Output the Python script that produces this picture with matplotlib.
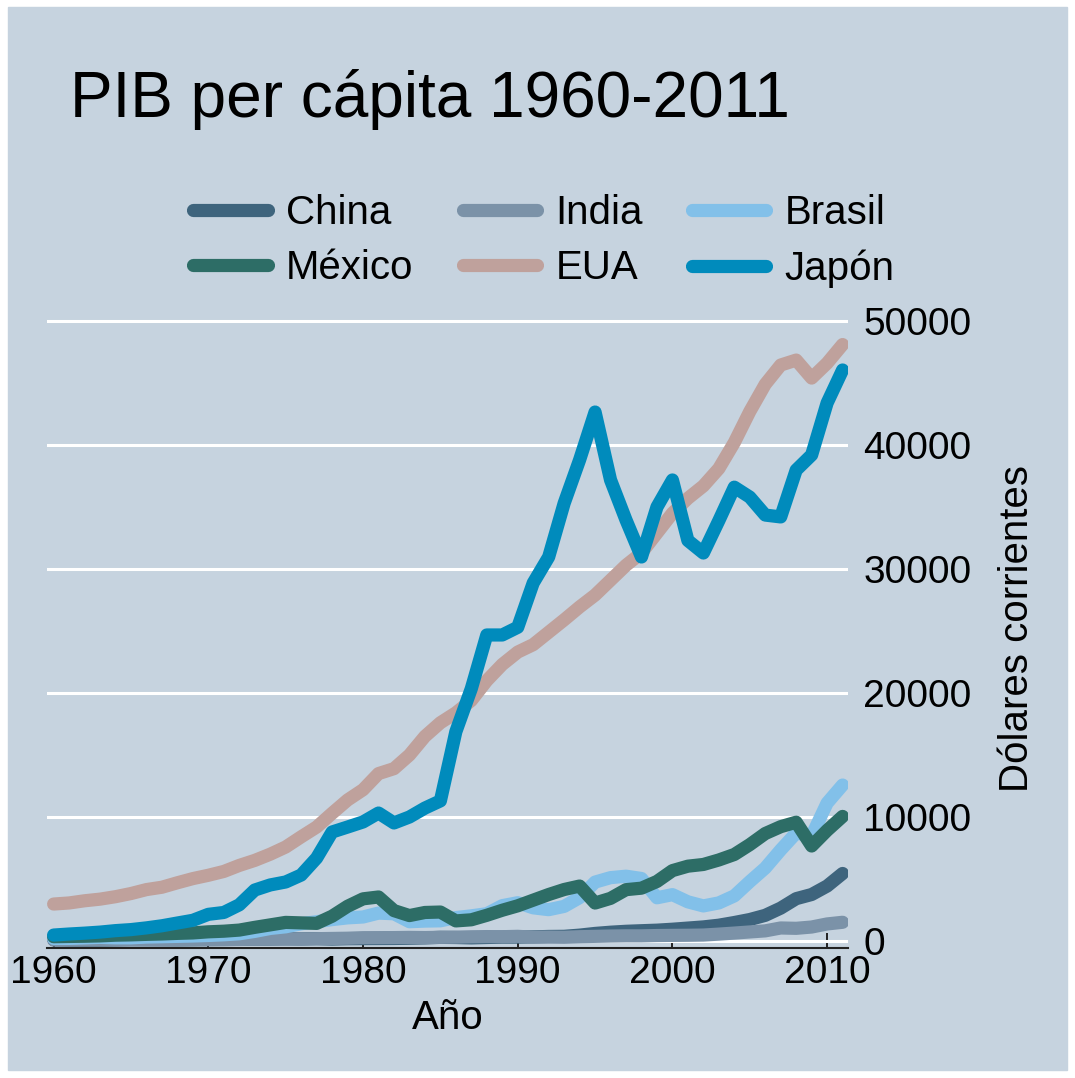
import numpy as np
import matplotlib
matplotlib.use("Agg")
import matplotlib.pyplot as plt
from matplotlib.lines import Line2D
from matplotlib.patches import Rectangle

plt.rcParams['font.family'] = ['Liberation Sans', 'DejaVu Sans']

years = list(range(1960, 2012))

# PIB per capita, dolares corrientes
china = [92, 75, 70, 74, 85, 98, 104, 96, 91, 100,
         112, 118, 131, 157, 160, 178, 165, 185, 155, 183,
         193, 197, 203, 225, 250, 294, 281, 251, 283, 310,
         314, 333, 366, 377, 473, 610, 709, 782, 829, 873,
         949, 1042, 1135, 1274, 1490, 1731, 2069, 2651, 3414, 3749,
         4433, 5445]
india = [84, 89, 92, 102, 116, 119, 90, 97, 100, 108,
         112, 118, 122, 143, 163, 158, 161, 186, 205, 224,
         267, 271, 275, 291, 277, 296, 310, 340, 355, 347,
         376, 309, 317, 301, 346, 374, 400, 415, 413, 441,
         453, 462, 480, 555, 639, 729, 817, 1050, 1022, 1127,
         1375, 1509]
brasil = [205, 208, 251, 292, 255, 256, 318, 344, 373, 403,
          445, 500, 582, 773, 1012, 1144, 1386, 1559, 1725, 1866,
          1936, 2250, 2195, 1555, 1605, 1627, 1888, 2029, 2200, 2850,
          3087, 2676, 2526, 2791, 3500, 4750, 5109, 5226, 5041, 3484,
          3739, 3157, 2829, 3070, 3637, 4790, 5886, 7348, 8707, 8474,
          11124, 12576]
mexico = [345, 365, 383, 412, 469, 494, 535, 565, 614, 651,
          740, 790, 880, 1100, 1300, 1500, 1460, 1420, 2000, 2800,
          3400, 3550, 2450, 2050, 2300, 2335, 1620, 1710, 2072, 2480,
          2837, 3293, 3749, 4152, 4432, 3061, 3439, 4140, 4261, 4802,
          5676, 6034, 6172, 6534, 6976, 7771, 8667, 9219, 9580, 7661,
          8921, 10047]
eua = [2980, 3067, 3244, 3375, 3574, 3828, 4146, 4336, 4696, 5032,
       5300, 5609, 6094, 6500, 7000, 7580, 8400, 9190, 10300, 11370,
       12200, 13500, 13900, 15000, 16500, 17600, 18400, 19400, 21000, 22300,
       23300, 23900, 24900, 25900, 26940, 27900, 29100, 30300, 31290, 32900,
       34500, 35700, 36700, 38100, 40200, 42700, 44900, 46450, 46850, 45400,
       46600, 48100]
japon = [479, 563, 633, 717, 836, 919, 1058, 1228, 1450, 1669,
         2150, 2300, 2917, 4110, 4520, 4760, 5320, 6690, 8790, 9190,
         9600, 10320, 9520, 10000, 10720, 11300, 16882, 20355, 24680, 24680,
         25300, 28870, 30970, 35300, 38800, 42660, 37180, 33950, 30970, 35000,
         37180, 32300, 31290, 33900, 36600, 35800, 34350, 34200, 37980, 39200,
         43390, 46050]

paises = ['China', 'India', 'Brasil', 'México', 'EUA', 'Japón']
colores = ['#3e647d', '#7b92a8', '#82c0e9', '#2d6d66', '#bfa19c', '#008bbc']
series = [china, india, brasil, mexico, eua, japon]

bg = '#c6d3df'
W, H = 1075, 1078

fig = plt.figure(figsize=(W / 100, H / 100), dpi=100, facecolor='white')
fig.patches.append(Rectangle((8 / W, 8 / H), (1067 - 8) / W, (1070 - 7) / H,
                             transform=fig.transFigure, color=bg, zorder=-10))

ax = fig.add_axes([47 / W, 1 - 948 / H, (848 - 47) / W, (948 - 308) / H])
ax.set_facecolor(bg)

lineas = {}
for nombre, vals, c in zip(paises, series, colores):
    lineas[nombre], = ax.plot(years, vals, color=c, lw=9.5, solid_capstyle='round',
                              solid_joinstyle='round', label=nombre, zorder=3)

ax.set_xlim(1959.57, 2011.35)
ax.set_ylim(-565, 51050)
ax.set_xticks([1960, 1970, 1980, 1990, 2000, 2010])
ax.set_yticks([0, 10000, 20000, 30000, 40000, 50000])

ax.yaxis.tick_right()
ax.grid(axis='y', color='white', lw=2.2, zorder=1)
ax.set_axisbelow(True)
for s in ['top', 'left', 'right']:
    ax.spines[s].set_visible(False)
ax.spines['bottom'].set_color('#222222')
ax.spines['bottom'].set_linewidth(1.5)
ax.spines['bottom'].set_zorder(4)

ax.tick_params(axis='x', direction='in', length=11, width=1.4, color='#222222',
               labelsize=28, pad=5)
ax.tick_params(axis='y', length=0, labelsize=28, pad=11)
for lab in ax.get_yticklabels():
    lab.set_horizontalalignment('left')

fig.text(448 / W, 1 - 1018 / H, 'Año', ha='center', va='center', fontsize=29)
fig.text(1017 / W, 1 - 628 / H, 'Dólares corrientes', rotation=90,
         ha='center', va='center', fontsize=29)
fig.text(70 / W, 1 - 100 / H, 'PIB per cápita 1960-2011', ha='left',
         va='center', fontsize=46)

# la leyenda de matplotlib llena por columnas; reordenar para llenar por filas
orden = ['China', 'México', 'India', 'EUA', 'Brasil', 'Japón']
handles = [Line2D([0], [0], color=lineas[p].get_color(), lw=9.5, solid_capstyle='round')
           for p in orden]
fig.legend(handles, orden, ncol=3, loc='center', bbox_to_anchor=(544 / W, 1 - 241 / H),
           frameon=False, fontsize=29, handlelength=1.85, handletextpad=0.45,
           columnspacing=1.22, labelspacing=0.42)

fig.savefig('out.png', dpi=100, facecolor='white')
